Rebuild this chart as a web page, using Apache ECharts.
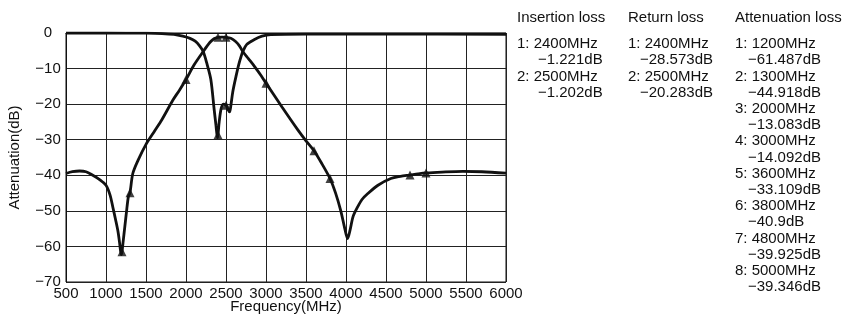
<!DOCTYPE html>
<html>
<head>
<meta charset="utf-8">
<script src="https://cdn.jsdelivr.net/npm/echarts@6/dist/echarts.min.js"></script>
<style>
  html,body{margin:0;padding:0;background:#fff;}
  #main{width:848px;height:316px;}
</style>
</head>
<body>
<div id="main"></div>
<script>
// frequency (MHz) / dB
var ilFreq = [500,580,670,750,835,920,1000,1050,1085,1120,1150,1170,1190,1200,1215,1235,1260,1280,1300,1335,1400,1500,1600,1700,1835,1920,2000,2100,2215,2300,2350,2400,2450,2500,2560,2620,2670,2710,2780,2860,2940,3000,3200,3400,3500,3600,3700,3800,3870,3935,3985,4020,4050,4090,4145,4200,4270,4400,4560,4680,4800,4900,5000,5200,5460,5700,6000];
var ilDb = [-39.5,-39.0,-38.8,-39.0,-40.0,-41.2,-42.8,-45.5,-48.9,-52.5,-55.8,-59.0,-62.3,-61.5,-58.5,-54.5,-49.5,-46.0,-44.9,-39.5,-35.8,-31.3,-27.8,-24.3,-18.9,-16.0,-13.08,-9.0,-5.2,-2.6,-1.6,-1.221,-1.15,-1.202,-1.5,-2.4,-3.7,-5.2,-7.2,-9.5,-12.0,-14.09,-20.8,-27.3,-30.3,-33.1,-36.8,-40.9,-45.0,-50.0,-55.0,-57.8,-55.5,-51.5,-48.9,-46.8,-45.2,-42.8,-40.9,-40.3,-39.925,-39.6,-39.346,-39.1,-38.9,-39.0,-39.4];

var rlFreq = [500,1000,1500,1700,1850,1960,2050,2115,2170,2215,2260,2310,2352,2375,2393,2400,2415,2440,2470,2500,2525,2545,2560,2585,2625,2660,2690,2710,2760,2850,2950,3060,3500,4500,6000];
var rlDb = [0,0,-0.05,-0.15,-0.4,-0.9,-1.5,-2.3,-3.6,-5.2,-8.5,-13.0,-21.5,-26.0,-29.4,-28.573,-25.0,-21.2,-20.0,-20.283,-21.5,-22.2,-20.5,-16.5,-12.2,-8.8,-6.5,-5.2,-3.2,-1.9,-0.9,-0.45,-0.3,-0.3,-0.35];

// marker tables
var insFreq = [2400,2500];
var insDb = [-1.221,-1.202];
var retFreq = [2400,2500];
var retDb = [-28.573,-20.283];
var attFreq = [1200,1300,2000,3000,3600,3800,4800,5000];
var attDb = [-61.487,-44.918,-13.083,-14.092,-33.109,-40.9,-39.925,-39.346];

var xTicks = [500,6000,500];   // min, max, interval
var yTicks = [-70,0,10];

var FONT = '15px "Liberation Sans", Arial, sans-serif';
var INK = '#111';

function pairs(xs, ys){
  var out=[];
  for(var i=0;i<xs.length;i++){ out.push([xs[i],ys[i]]); }
  return out;
}

function minus(v){
  return String(v).replace('-','\u2212');
}

function markerSeries(xs, ys){
  return {
    type:'scatter',
    symbol:'triangle',
    symbolSize:9,
    itemStyle:{color:INK},
    z:5,
    data:pairs(xs,ys)
  };
}

function legendColumn(x, title, xs, ys, indent){
  var els=[{
    type:'text', x:x, y:18,
    style:{text:title, font:FONT, fill:INK, verticalAlign:'middle'}
  }];
  var lineY=44, step=16.2;
  for(var i=0;i<xs.length;i++){
    els.push({
      type:'text', x:x, y:lineY,
      style:{text:(i+1)+': '+xs[i]+'MHz', font:FONT, fill:INK, verticalAlign:'middle'}
    });
    lineY+=step;
    els.push({
      type:'text', x:x+indent, y:lineY,
      style:{text:minus(ys[i])+'dB', font:FONT, fill:INK, verticalAlign:'middle'}
    });
    lineY+=step;
  }
  return els;
}

var chart = echarts.init(document.getElementById('main'));

var graphics = []
  .concat(legendColumn(517,'Insertion loss',insFreq,insDb,21))
  .concat(legendColumn(628,'Return loss',retFreq,retDb,12))
  .concat(legendColumn(735,'Attenuation loss',attFreq,attDb,13));

var options = {
  animation:false,
  backgroundColor:'#fff',
  grid:{left:66,right:342,top:33,bottom:34,show:true,borderColor:INK,borderWidth:1,outerBoundsMode:'none'},
  xAxis:{
    type:'value',
    min:xTicks[0], max:xTicks[1], interval:xTicks[2],
    name:'Frequency(MHz)',
    nameLocation:'middle',
    nameGap:17,
    nameMoveOverlap:false,
    nameTextStyle:{color:INK,fontFamily:'Liberation Sans',fontSize:15,verticalAlign:'top'},
    axisLine:{lineStyle:{color:INK,width:1}},
    axisTick:{show:false},
    axisLabel:{
      color:INK,fontFamily:'Liberation Sans',fontSize:15,margin:4,
      showMinLabel:true,showMaxLabel:true,hideOverlap:false,
      formatter:function(v){ return String(v); }
    },
    splitLine:{show:true,lineStyle:{color:'#222',width:1}}
  },
  yAxis:{
    type:'value',
    min:yTicks[0], max:yTicks[1], interval:yTicks[2],
    name:'Attenuation(dB)',
    nameLocation:'middle',
    nameGap:44,
    nameMoveOverlap:false,
    nameTextStyle:{color:INK,fontFamily:'Liberation Sans',fontSize:15},
    axisLine:{show:true,lineStyle:{color:INK,width:1}},
    axisTick:{show:false},
    axisLabel:{
      color:INK,fontFamily:'Liberation Sans',fontSize:15,margin:18,align:'center',
      formatter:function(v){ return minus(v); }
    },
    splitLine:{show:true,lineStyle:{color:'#222',width:1}}
  },
  graphic:graphics,
  series:[
    {
      type:'line',
      data:pairs(ilFreq,ilDb),
      smooth:0.3,
      showSymbol:false,
      lineStyle:{color:INK,width:2.8},
      z:3
    },
    {
      type:'line',
      data:pairs(rlFreq,rlDb),
      smooth:0.3,
      showSymbol:false,
      lineStyle:{color:INK,width:2.8},
      z:3
    },
    markerSeries(insFreq,insDb),
    markerSeries(retFreq,retDb),
    markerSeries(attFreq,attDb)
  ]
};

chart.setOption(options);
</script>
</body>
</html>
